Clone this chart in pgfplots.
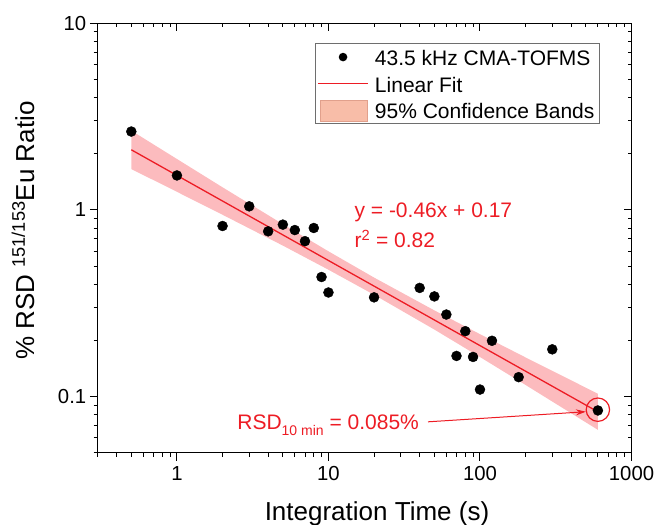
\documentclass[border=0pt]{standalone}
\usepackage{pgfplots}
\pgfplotsset{compat=1.18}
\usepackage{fontspec}
\setmainfont{Liberation Sans}
\usetikzlibrary{arrows.meta}
\definecolor{myred}{RGB}{237,28,36}
\definecolor{bandcol}{RGB}{245,60,70}
\definecolor{legpatch}{RGB}{248,189,168}
\definecolor{legpatchb}{RGB}{225,160,140}
\definecolor{legbord}{RGB}{110,110,110}
\begin{document}
\begin{tikzpicture}
\useasboundingbox (-97.7pt,-72.3pt) rectangle (559.3pt,452.7pt);
\begin{axis}[
  scale only axis, width=533.8pt, height=429.4pt,
  xmode=log, ymode=log, xmin=0.3, xmax=1000, ymin=0.05, ymax=10,
  xtick={1,10,100,1000}, ytick={0.1,1,10},
  minor xtick={0.3,0.4,0.5,0.6,0.7,0.8,0.9,2,3,4,5,6,7,8,9,20,30,40,50,60,70,80,90,200,300,400,500,600,700,800,900},
  minor ytick={0.05,0.06,0.07,0.08,0.09,0.2,0.3,0.4,0.5,0.6,0.7,0.8,0.9,2,3,4,5,6,7,8,9},
  major tick length=8pt, minor tick length=4pt,
  axis line style={line width=1pt, black},
  major tick style={line width=1pt, black},
  minor tick style={line width=0.9pt, black},
  tick align=outside, xtick pos=left, ytick pos=left,
  xticklabels={1,10,100,1000}, yticklabels={0.1,1,10},
  ticklabel style={font=\fontsize{20.3}{24}\selectfont},
  xticklabel style={yshift=-2pt},
  /pgf/number format/assume math mode=true,
  xlabel={Integration Time (s)},
  ylabel={\% RSD \textsuperscript{151/153}Eu Ratio},
  every axis x label/.style={at={(axis description cs:0.5232,-0.1584)}, anchor=base, font=\fontsize{26}{30}\selectfont},
  every axis y label/.style={at={(axis description cs:-0.1193,0.517)}, anchor=base, rotate=90, font=\fontsize{26}{30}\selectfont},
  legend style={at={(0.4065,0.9534)}, anchor=north west, draw=legbord, line width=0.8pt, fill=white,
    inner xsep=2.6pt, inner ysep=0pt, row sep=0pt, font=\fontsize{21}{25}\selectfont,
    nodes={inner xsep=2pt, inner ysep=2pt, text height=19.7pt, text depth=3pt},
    /tikz/every odd column/.append style={column sep=4.6pt}},
  legend cell align=left,
]
% data points
\addplot[only marks, mark=*, mark size=5pt, black, forget plot] coordinates {
(0.5,2.63) (1,1.53) (2,0.82) (3,1.045) (4,0.768) (5,0.834) (6,0.78) (7,0.68) (8,0.80) (9,0.437)
(10,0.361) (20,0.34) (40,0.382) (50,0.344) (60,0.275) (70,0.165) (80,0.224) (90,0.163)
(100,0.109) (120,0.199) (180,0.127) (300,0.179) (600,0.0842)
};
% confidence band
\addplot[draw=none, fill=bandcol, fill opacity=0.35, forget plot] coordinates {
(0.5,2.66) (1,1.875) (2,1.322) (5,0.839) (10,0.600) (20,0.434) (50,0.2895) (100,0.2159) (200,0.1620) (600,0.1035)
(600,0.0663) (200,0.1153) (100,0.1628) (50,0.2285) (20,0.351) (10,0.478) (5,0.644) (2,0.942) (1,1.250) (0.5,1.656)
} -- cycle;
% linear fit
\addplot[myred, line width=1.3pt, forget plot] coordinates {(0.5,2.10) (600,0.0828)};

\addlegendimage{legend image code/.code={\path[draw=none, fill=none] (0pt,0pt) -- (49.4pt,0pt); \fill[black, draw=none] (24.7pt,0pt) circle[radius=4.3pt];}}
\addlegendentry{43.5 kHz CMA-TOFMS}
\addlegendimage{legend image code/.code={\draw[myred, line width=1.3pt] (0pt,0pt) -- (49.4pt,0pt);}}
\addlegendentry{Linear Fit}
\addlegendimage{legend image code/.code={\draw[fill=legpatch, draw=legpatchb, line width=0.6pt] (2pt,-10.5pt) rectangle (49.4pt,10.5pt);}}
\addlegendentry{95\% Confidence Bands}

\node[anchor=base west, text=myred, font=\fontsize{21}{25}\selectfont, inner sep=0pt] at (axis cs:14.83,0.9128) {y = -0.46x + 0.17};
\node[anchor=base west, text=myred, font=\fontsize{21}{25}\selectfont, inner sep=0pt] at (axis cs:14.83,0.6255) {r\textsuperscript{2} = 0.82};
\node[anchor=base west, text=myred, font=\fontsize{21}{25}\selectfont, inner sep=0pt] at (axis cs:2.498,0.0669) {RSD\raisebox{-6pt}{\fontsize{14}{14}\selectfont 10 min} = 0.085\%};
\draw[myred, line width=1.2pt] (axis cs:600,0.085) circle[radius=11.7pt];
\draw[myred, line width=1pt, -{Stealth[length=10pt,width=6pt]}] (axis cs:45.4,0.0732) -- (axis cs:500,0.0829);
\end{axis}
\begin{axis}[
  scale only axis, width=533.8pt, height=429.4pt,
  xmode=log, ymode=log, xmin=0.3, xmax=1000, ymin=0.05, ymax=10,
  xtick={1,10,100,1000}, ytick={0.1,1,10},
  minor xtick={0.3,0.4,0.5,0.6,0.7,0.8,0.9,2,3,4,5,6,7,8,9,20,30,40,50,60,70,80,90,200,300,400,500,600,700,800,900},
  minor ytick={0.05,0.06,0.07,0.08,0.09,0.2,0.3,0.4,0.5,0.6,0.7,0.8,0.9,2,3,4,5,6,7,8,9},
  major tick length=8pt, minor tick length=4pt,
  axis line style={line width=1pt, black},
  major tick style={line width=1pt, black},
  minor tick style={line width=0.9pt, black},
  tick align=inside, xtick pos=right, ytick pos=right, xticklabels={}, yticklabels={}]
\addplot[draw=none, forget plot] coordinates {(1,1)};
\end{axis}
\end{tikzpicture}
\end{document}
